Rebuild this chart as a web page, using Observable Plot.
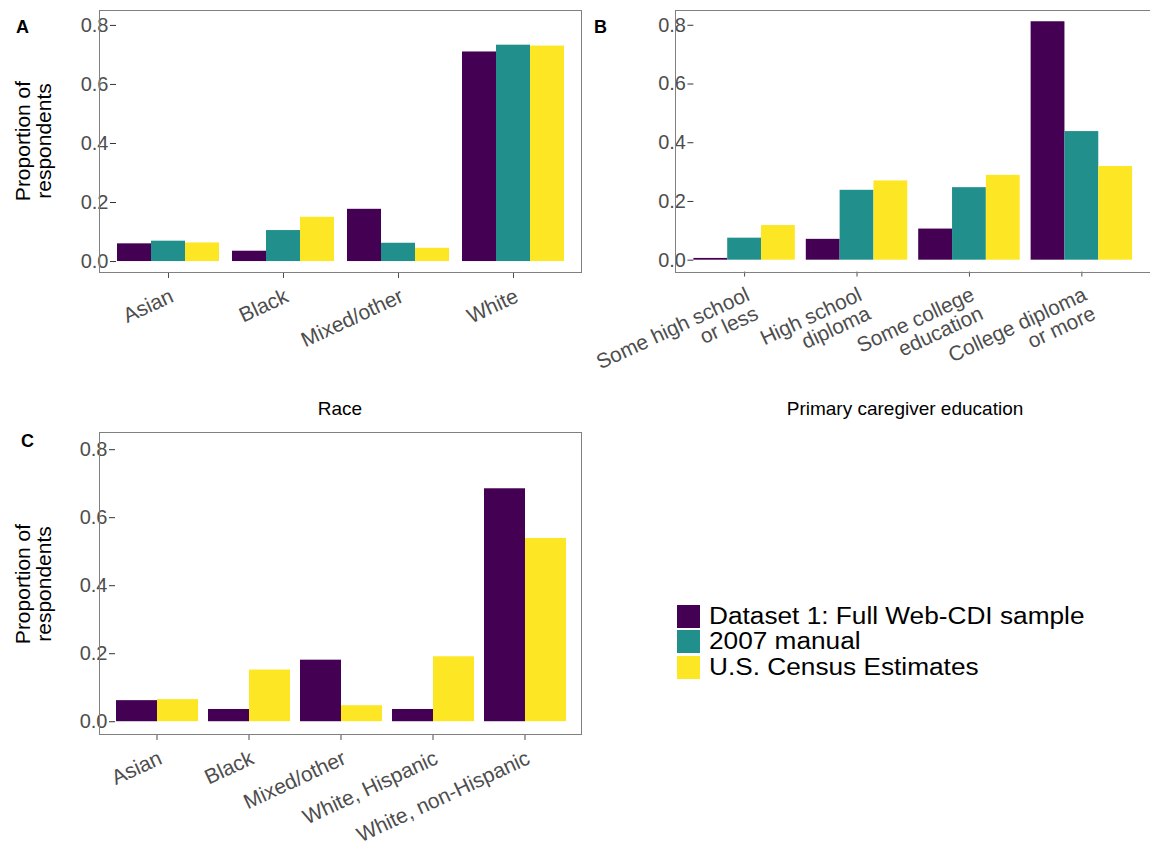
<!DOCTYPE html>
<html>
<head>
<meta charset="utf-8">
<script src="https://cdn.jsdelivr.net/npm/d3@7"></script>
<script src="https://cdn.jsdelivr.net/npm/@observablehq/plot@0.6"></script>
<style>
  html, body { margin: 0; padding: 0; background: #fff; overflow: hidden; }
  #wrap { position: relative; width: 1150px; height: 848px; overflow: hidden; font-family: "Liberation Sans", Arial, sans-serif; }
  .panel { position: absolute; }
  .panel svg { overflow: visible; }
  .frame { position: absolute; border: 1px solid #808080; box-sizing: border-box; pointer-events: none; }
  .tag { position: absolute; font-weight: bold; font-size: 18px; color: #000; }
  .ytitle { position: absolute; font-size: 21px; line-height: 21px; color: #000; text-align: center; transform: translate(-50%, -50%) rotate(-90deg); white-space: nowrap; }
  .xtitle { position: absolute; font-size: 19px; color: #000; transform: translate(-50%, -50%); white-space: nowrap; }
  .legend { position: absolute; left: 677px; top: 604px; font-size: 23px; color: #000; }
  .legend .row { display: flex; align-items: center; height: 25.3px; }
  .legend .key { width: 23px; height: 23px; margin-right: 9px; flex: none; }
  .legend span { display: inline-block; transform: scaleX(1.14); transform-origin: left center; white-space: nowrap; }
</style>
</head>
<body>
<div id="wrap"></div>
<script>
// ---- data ----
const seriesNames = ["Dataset 1: Full Web-CDI sample", "2007 manual", "U.S. Census Estimates"];
const seriesColors = ["#440154", "#21908C", "#FDE725"];

const raceCats = ["Asian", "Black", "Mixed/other", "White"];
const raceWebCDI = [0.060, 0.035, 0.177, 0.710];
const raceManual = [0.069, 0.105, 0.062, 0.733];
const raceCensus = [0.063, 0.150, 0.045, 0.730];

const eduCats = ["Some high school\nor less", "High school\ndiploma", "Some college\neducation", "College diploma\nor more"];
const eduWebCDI = [0.006, 0.071, 0.106, 0.812];
const eduManual = [0.075, 0.238, 0.247, 0.438];
const eduCensus = [0.118, 0.270, 0.289, 0.319];

const ethCats = ["Asian", "Black", "Mixed/other", "White, Hispanic", "White, non-Hispanic"];
const ethWebCDI = [0.062, 0.036, 0.181, 0.036, 0.685];
const ethCensus = [0.065, 0.152, 0.047, 0.191, 0.539];

const yTicks = [0, 0.2, 0.4, 0.6, 0.8];
const yDomain = [-0.0405, 0.8505];

// ---- build tables ----
function table(cats, seriesList) {
  const rows = [];
  cats.forEach((c, i) => {
    seriesList.forEach(([name, vals]) => rows.push({cat: c, series: name, value: vals[i]}));
  });
  return rows;
}
const dataA = table(raceCats, [[seriesNames[0], raceWebCDI], [seriesNames[1], raceManual], [seriesNames[2], raceCensus]]);
const dataB = table(eduCats, [[seriesNames[0], eduWebCDI], [seriesNames[1], eduManual], [seriesNames[2], eduCensus]]);
const dataC = table(ethCats, [[seriesNames[0], ethWebCDI], [seriesNames[2], ethCensus]]);

const wrap = document.getElementById("wrap");

function panel({data, cats, series, left, top, width, height, mL, mT, mB}) {
  const chart = Plot.plot({
    width, height,
    marginLeft: mL, marginRight: 0, marginTop: mT, marginBottom: mB,
    style: {fontFamily: "Liberation Sans, Arial, sans-serif", color: "#4D4D4D", background: "transparent", overflow: "visible"},
    y: {domain: yDomain, label: null},
    fx: {domain: cats, paddingInner: 0.1, paddingOuter: 0.15, label: null},
    x: {domain: series, padding: 0, axis: null},
    color: {domain: seriesNames, range: seriesColors},
    marks: [
      Plot.barY(data, {fx: "cat", x: "series", y: "value", fill: "series"}),
      Plot.axisY({ticks: yTicks, tickFormat: ".1f", tickSize: 6, tickPadding: 2, fontSize: 20, label: null, stroke: "#333"}),
      Plot.axisFx({anchor: "bottom", tickRotate: -25, tickSize: 5, tickPadding: 9, lineAnchor: "top", fontSize: 21, label: null})
    ]
  });
  const div = document.createElement("div");
  div.className = "panel";
  div.style.left = left + "px";
  div.style.top = top + "px";
  div.appendChild(chart);
  wrap.appendChild(div);
  const fr = document.createElement("div");
  fr.className = "frame";
  fr.style.left = (left + mL) + "px";
  fr.style.top = (top + mT) + "px";
  fr.style.width = (width - mL) + "px";
  fr.style.height = (height - mT - mB) + "px";
  wrap.appendChild(fr);
}

panel({data: dataA, cats: raceCats, series: seriesNames, left: 0, top: 0, width: 582, height: 400, mL: 99, mT: 10, mB: 127});
panel({data: dataB, cats: eduCats, series: seriesNames, left: 575, top: 0, width: 578, height: 400, mL: 100, mT: 10, mB: 127});
panel({data: dataC, cats: ethCats, series: [seriesNames[0], seriesNames[2]], left: 0, top: 420, width: 582, height: 428, mL: 99, mT: 12, mB: 113});

function addText(cls, text, x, y) {
  const d = document.createElement("div");
  d.className = cls;
  d.innerHTML = text;
  d.style.left = x + "px";
  d.style.top = y + "px";
  wrap.appendChild(d);
}
addText("tag", "A", 16, 17);
addText("tag", "B", 594, 17);
addText("tag", "C", 21, 431);
addText("ytitle", "Proportion of<br>respondents", 33, 141);
addText("ytitle", "Proportion of<br>respondents", 33, 584);
addText("xtitle", "Race", 340, 409);
addText("xtitle", "Primary caregiver education", 905, 409);

const leg = document.createElement("div");
leg.className = "legend";
seriesNames.forEach((n, i) => {
  const r = document.createElement("div");
  r.className = "row";
  r.innerHTML = `<div class="key" style="background:${seriesColors[i]}"></div><span>${n}</span>`;
  leg.appendChild(r);
});
wrap.appendChild(leg);
</script>
</body>
</html>
